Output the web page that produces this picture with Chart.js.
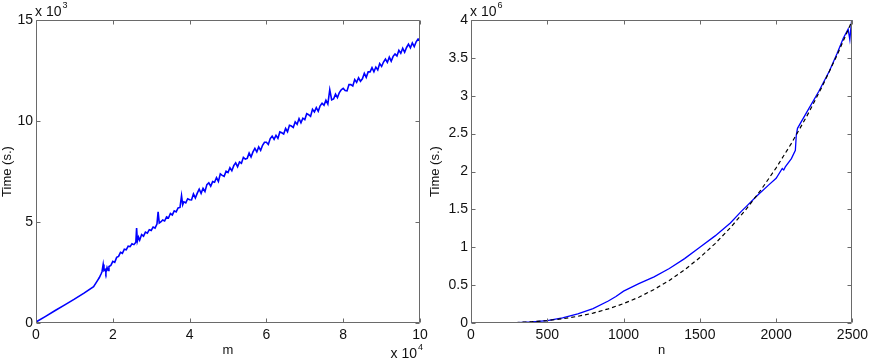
<!DOCTYPE html>
<html>
<head>
<meta charset="utf-8">
<script src="https://cdn.jsdelivr.net/npm/chart.js@4.4.1/dist/chart.umd.min.js"></script>
<style>
  html,body{margin:0;padding:0;background:#fff;}
  #wrap{position:relative;width:872px;height:359px;overflow:hidden;}
  .box{position:absolute;top:0;height:359px;}
  #leftBox{left:0;width:440px;}
  #rightBox{left:428px;width:444px;}
</style>
</head>
<body>
<div id="wrap">
  <div class="box" id="leftBox"><canvas id="leftChart"></canvas></div>
  <div class="box" id="rightBox"><canvas id="rightChart"></canvas></div>
</div>
<script>
// left panel: m in units of 10^4, time in units of 10^3 s
const mValues=[
  0,0.25,0.5,0.75,1.0,1.25,1.5,
  1.6,1.65,1.7,1.72,1.75,1.77,1.8,1.82,1.85,1.88,1.9,1.95,
  2.0,2.05,2.1,2.15,2.2,2.25,2.3,2.35,2.4,2.45,2.5,2.55,2.6,
  2.62,2.64,2.67,2.7,2.75,2.8,2.85,2.9,2.95,3.0,3.05,3.1,3.15,
  3.18,3.21,3.25,3.3,3.35,3.4,3.45,3.5,3.55,3.6,3.65,3.7,3.75,
  3.79,3.82,3.85,3.9,3.95,
  4.00,4.05,4.10,4.15,4.20,4.25,4.30,4.35,4.40,4.45,
  4.50,4.55,4.60,4.65,4.70,4.75,4.80,4.85,4.90,4.95,
  5.00,5.05,5.10,5.15,5.20,5.25,5.30,5.35,5.40,5.45,
  5.50,5.55,5.60,5.65,5.70,5.75,5.80,5.85,5.90,5.95,
  6.00,6.05,6.10,6.15,6.20,6.25,6.30,6.35,6.40,6.45,
  6.50,6.55,6.60,6.65,6.70,6.75,6.80,6.85,6.90,6.95,
  7.00,7.05,7.10,7.15,7.20,7.25,7.30,7.35,7.40,7.45,
  7.50,7.55,7.60,7.65,7.70,7.75,7.80,7.85,7.90,7.95,
  8.00,8.05,8.10,8.15,8.20,8.25,8.30,8.35,8.40,8.45,
  8.50,8.55,8.60,8.65,8.70,8.75,8.80,8.85,8.90,8.95,
  9.00,9.05,9.10,9.15,9.20,9.25,9.30,9.35,9.40,9.45,
  9.50,9.55,9.60,9.65,9.70,9.75,9.80,9.85,9.90,9.95,
  10.00
];
const mTimes=[
  0.05,0.33,0.62,0.90,1.18,1.48,1.80,
  2.10,2.25,2.45,2.55,2.90,2.60,2.65,2.50,2.75,2.60,2.80,2.85,
  3.05,3.00,3.25,3.30,3.50,3.45,3.65,3.62,3.80,3.78,3.92,3.88,4.00,
  4.70,4.05,4.25,4.10,4.38,4.30,4.50,4.45,4.62,4.58,4.75,4.70,4.90,
  5.50,4.95,5.00,5.10,5.05,5.25,5.20,5.42,5.35,5.55,5.50,5.70,5.72,
  6.30,5.85,6.00,5.95,6.15,
  6.10,6.09,6.39,6.19,6.43,6.63,6.42,6.67,6.51,6.85,
  6.94,6.77,7.00,6.97,7.20,7.01,7.38,7.31,7.26,7.51,
  7.45,7.69,7.54,7.79,7.93,7.73,7.97,7.91,8.20,8.11,
  8.15,8.41,8.22,8.47,8.64,8.47,8.72,8.55,8.80,8.95,
  8.95,8.84,9.13,9.25,9.09,9.29,9.14,9.46,9.42,9.36,
  9.63,9.47,9.79,9.75,9.68,9.96,9.84,10.12,9.91,10.14,
  10.07,10.36,10.31,10.23,10.58,10.45,10.66,10.48,10.75,10.88,
  10.78,11.03,10.84,11.55,11.05,11.09,11.33,11.16,11.41,11.55,
  11.62,11.51,11.49,11.80,11.80,11.73,12.05,11.91,12.14,11.97,
  12.09,12.36,12.16,12.43,12.43,12.64,12.44,12.67,12.53,12.84,
  12.70,12.92,13.07,12.90,13.16,12.96,13.20,13.32,13.22,13.50,
  13.35,13.60,13.40,13.64,13.80,13.62,13.86,13.68,13.92,14.06,
  13.95
];
const leftXTicks=[0,2,4,6,8,10];
const leftYTicks=[0,5,10,15];

// right panel: n, time in units of 10^6 s
const nValues=[
  0,100,200,300,400,500,600,700,800,900,
  950,1000,1030,1100,1200,1300,1400,1500,1600,1700,
  1770,1800,1880,1950,2000,2040,2050,2060,2100,2126,
  2132,2140,2200,2280,2350,2400,2440,2472,2483,2494,
  2500
];
const nTimes=[
  0,0.0005,0.002,0.006,0.016,0.032,0.068,0.12,0.19,0.29,
  0.35,0.42,0.45,0.52,0.61,0.72,0.85,1.0,1.15,1.32,
  1.47,1.53,1.69,1.82,1.91,2.04,2.02,2.06,2.17,2.28,
  2.48,2.57,2.78,3.06,3.33,3.56,3.76,3.88,3.74,3.98,
  4.0
];
const fitN=[200,300,400,500,600,700,800,900,1000,1100,1200,1300,1400,1500,1600,1700,1800,1900,2000,2100,2200,2300,2400,2500];
const fitTimes=[0.002,0.0069,0.0164,0.032,0.0553,0.0878,0.131,0.1866,0.256,0.3407,0.4424,0.5624,0.7025,0.864,1.0486,1.2577,1.493,1.7559,2.048,2.3708,2.7259,3.1148,3.539,4.0];
const rightXTicks=[0,500,1000,1500,2000,2500];
const rightYTicks=[0,0.5,1,1.5,2,2.5,3,3.5,4];

const FONT='"Liberation Sans", Arial, Helvetica, sans-serif';
const TEXT='#111';
const AXIS='#6a6a6a';

function pairs(xs,ys){
    return xs.map((x,i)=>({x:x,y:ys[i]}));
}

// box around the plot, inward ticks on all four sides, and the "x 10^k" notes
const matlabAxes={
    id:'matlabAxes',
    afterDraw(chart,args,opts){
        const ctx=chart.ctx;
        const a=chart.chartArea;
        const xs=chart.scales.x, ys=chart.scales.y;
        const L=Math.round(a.left)+0.5, R=Math.round(a.right)-0.5;
        const T=Math.round(a.top)+0.5, B=Math.round(a.bottom)-0.5;
        const len=4;
        ctx.save();
        ctx.strokeStyle=AXIS;
        ctx.lineWidth=1;
        ctx.beginPath();
        ctx.rect(L,T,R-L,B-T);
        xs.ticks.forEach(t=>{
            const px=Math.round(xs.getPixelForValue(t.value))+0.5;
            ctx.moveTo(px,B);ctx.lineTo(px,B-len);
            ctx.moveTo(px,T);ctx.lineTo(px,T+len);
        });
        ys.ticks.forEach(t=>{
            const py=Math.round(ys.getPixelForValue(t.value))+0.5;
            ctx.moveTo(L,py);ctx.lineTo(L+len,py);
            ctx.moveTo(R,py);ctx.lineTo(R-len,py);
        });
        ctx.stroke();
        ctx.fillStyle=TEXT;
        ctx.textBaseline='alphabetic';
        ctx.textAlign='left';
        const drawExp=(x,base,exp,alignRight)=>{
            ctx.font='14px '+FONT;
            const w=ctx.measureText('x 10').width;
            ctx.font='9px '+FONT;
            const w2=ctx.measureText(exp).width;
            const x0=alignRight?x-w-w2-1:x;
            ctx.font='14px '+FONT;
            ctx.fillText('x 10',x0,base);
            ctx.font='9px '+FONT;
            ctx.fillText(exp,x0+w+1,base-8);
        };
        if(opts.yExp){
            drawExp(a.left-1,a.top-4,opts.yExp,false);
        }
        if(opts.xExp){
            drawExp(a.right+3,358,opts.xExp,true);
        }
        ctx.restore();
    }
};

function fixTicks(list){
    return function(scale){
        scale.ticks=list.map(v=>({value:v}));
    };
}

function buildScales(xTicks,yTicks,xMax,yMax,xTitle,yWidth){
    const tickFont={family:FONT,size:14};
    const titleFont={family:FONT,size:13};
    return {
        x:{
            type:'linear',min:0,max:xMax,
            afterBuildTicks:fixTicks(xTicks),
            afterFit(scale){scale.height=36;},
            grid:{display:false,drawTicks:false},
            border:{display:false},
            ticks:{color:TEXT,font:tickFont,padding:4,maxRotation:0,autoSkip:false,
                callback:v=>String(v)},
            title:{display:true,text:xTitle,color:TEXT,font:titleFont,padding:{top:0,bottom:1}}
        },
        y:{
            type:'linear',min:0,max:yMax,
            afterBuildTicks:fixTicks(yTicks),
            afterFit(scale){scale.width=yWidth;},
            grid:{display:false,drawTicks:false},
            border:{display:false},
            ticks:{color:TEXT,font:tickFont,padding:3,autoSkip:false,
                callback:v=>String(v)},
            title:{display:true,text:'Time (s.)',color:TEXT,font:titleFont,padding:{top:0,bottom:0}}
        }
    };
}

Chart.defaults.animation=false;

new Chart(document.getElementById('leftChart'),{
    type:'line',
    data:{
        datasets:[{
            data:pairs(mValues,mTimes),
            borderColor:'#0000ff',
            borderWidth:1.6,
            pointRadius:0,
            tension:0
        }]
    },
    options:{
        responsive:true,
        maintainAspectRatio:false,
        devicePixelRatio:1,
        layout:{autoPadding:false,padding:{left:0,top:20,right:20,bottom:0}},
        plugins:{legend:{display:false},tooltip:{enabled:false},matlabAxes:{yExp:'3',xExp:'4'}},
        scales:buildScales(leftXTicks,leftYTicks,10,15,'m',36)
    },
    plugins:[matlabAxes]
});

new Chart(document.getElementById('rightChart'),{
    type:'line',
    data:{
        datasets:[{
            data:pairs(fitN,fitTimes),
            borderColor:'#000000',
            borderWidth:1.2,
            borderDash:[4,3],
            pointRadius:0,
            tension:0
        },{
            data:pairs(nValues,nTimes),
            borderColor:'#0000ff',
            borderWidth:1.3,
            pointRadius:0,
            tension:0
        }]
    },
    options:{
        responsive:true,
        maintainAspectRatio:false,
        devicePixelRatio:1,
        layout:{autoPadding:false,padding:{left:0,top:20,right:16,bottom:0}},
        plugins:{legend:{display:false},tooltip:{enabled:false},matlabAxes:{yExp:'6'}},
        scales:buildScales(rightXTicks,rightYTicks,2500,4,'n',43)
    },
    plugins:[matlabAxes]
});
</script>
</body>
</html>
